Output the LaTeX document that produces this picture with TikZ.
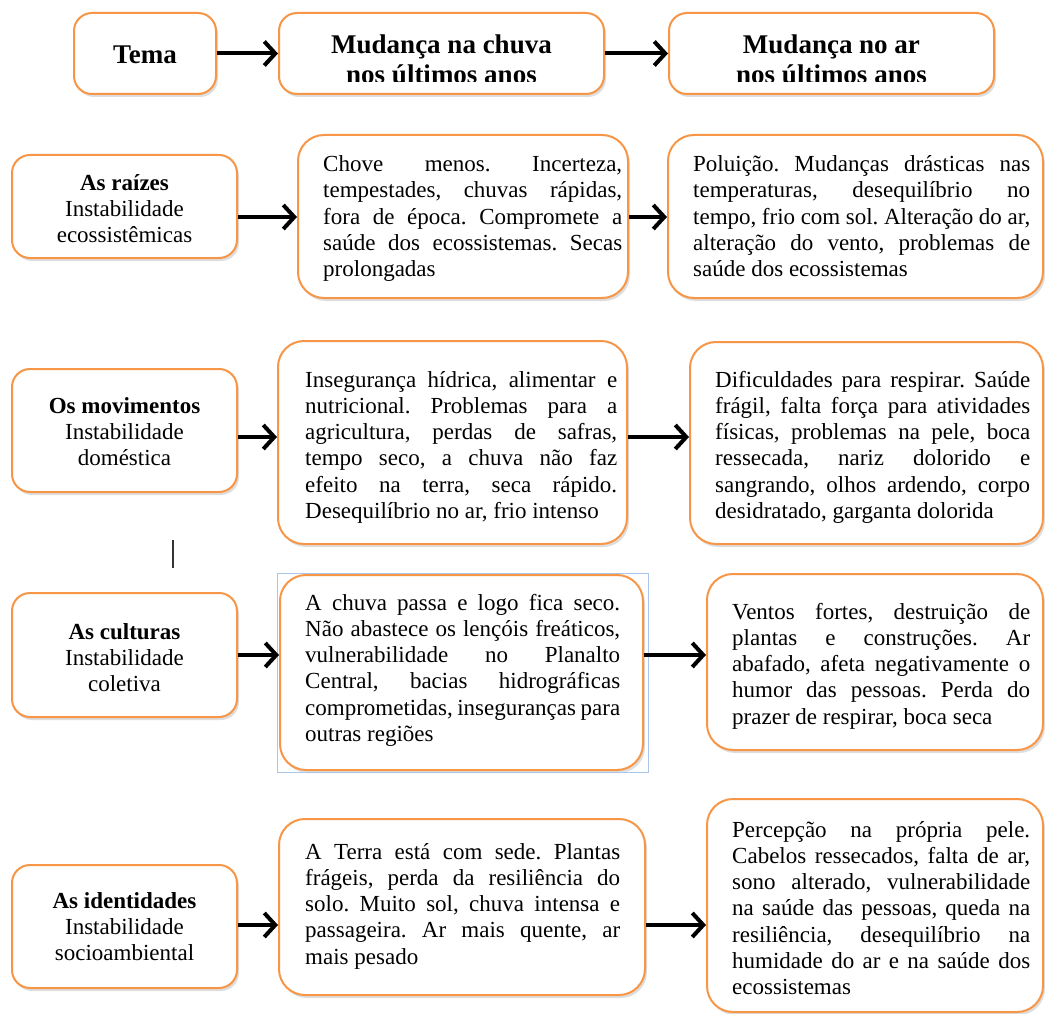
\documentclass[tikz,border=0pt]{standalone}
\usepackage{fontspec}
\setmainfont{Liberation Serif}
\usetikzlibrary{arrows.meta,shadows}
\definecolor{orng}{RGB}{247,150,70}
\definecolor{selblue}{RGB}{170,198,236}
\frenchspacing
\newlength\jw
\newcommand\jl[1]{\makebox[\jw][s]{#1}\par}
\newcommand\para[2]{\parbox[t]{#1}{\frenchspacing\setlength\jw{#1}\setlength\parindent{0pt}\fontsize{23}{26.3}\selectfont #2}}
\newcommand\ctext[1]{\parbox[t]{220pt}{\centering\fontsize{23}{26}\selectfont #1}}
\newcommand\toptext[1]{\parbox[t]{320pt}{\centering\bfseries\fontsize{27}{29.5}\selectfont #1}}
\tikzset{
  box/.style={draw=orng, line width=2pt, fill=white, rounded corners=18pt, inner sep=0pt,
    drop shadow={shadow xshift=2pt, shadow yshift=-3pt, fill=black!25, opacity=.5}},
  bigbox/.style={box, rounded corners=26pt},
  txt/.style={inner sep=0pt, anchor=base west},
  ctxt/.style={inner sep=0pt, anchor=base},
  arr/.style={line width=4pt, -{Straight Barb[length=11pt,width=24pt,line width=4pt]}}
}
\begin{document}
\begin{tikzpicture}[x=1pt,y=-1pt]
\useasboundingbox[fill=white] (0,0) rectangle (1045,1014);

% top row
\node[box, minimum width=142pt, minimum height=81pt] (T0) at (145,53.5) {};
\node[box, minimum width=325pt, minimum height=81pt] (T1) at (441.5,53.5) {};
\node[box, minimum width=325pt, minimum height=81pt] (T2) at (831.5,53.5) {};
\node[inner sep=0pt, font=\bfseries\fontsize{27}{29}\selectfont] (tT0) at (145,55) {Tema};
\begin{scope}
\clip (279,13) rectangle (604,81.5);
\node[ctxt] (tT1) at (441.5,54) {\toptext{Mudança na chuva\\nos últimos anos}};
\end{scope}
\begin{scope}
\clip (669,13) rectangle (994,81.5);
\node[ctxt] (tT2) at (831.5,54) {\toptext{Mudança no ar\\nos últimos anos}};
\end{scope}
\draw[arr] (T0.east) -- (T1.west);
\draw[arr] (T1.east) -- (T2.west);

% row 1
\node[box, minimum width=225pt, minimum height=103pt] (L1) at (124.5,206.5) {};
\node[bigbox, minimum width=330pt, minimum height=163pt] (M1) at (463,216.5) {};
\node[bigbox, minimum width=375pt, minimum height=163pt] (R1) at (855.5,216.5) {};
\node[ctxt] (tL1) at (124.5,191) {\ctext{\textbf{As raízes}\\Instabilidade\\ecossistêmicas}};
\node[txt] (tM1) at (323,171.5) {\para{299pt}{%
\jl{Chove menos. Incerteza,}
\jl{tempestades, chuvas rápidas,}
\jl{fora de época. Compromete a}
\jl{saúde dos ecossistemas. Secas}
prolongadas}};
\node[txt] (tR1) at (693,171.5) {\para{337pt}{%
\jl{Poluição. Mudanças drásticas nas}
\jl{temperaturas, desequilíbrio no}
\jl{tempo, frio com sol. Alteração do ar,}
\jl{alteração do vento, problemas de}
saúde dos ecossistemas}};
\draw[arr] (L1.east |- 0,217) -- (M1.west |- 0,217);
\draw[arr] (M1.east |- 0,217) -- (R1.west |- 0,217);

% row 2
\node[box, minimum width=225pt, minimum height=123pt] (L2) at (124.5,430.5) {};
\node[bigbox, minimum width=349pt, minimum height=203pt] (M2) at (452.5,442.5) {};
\node[bigbox, minimum width=353pt, minimum height=202pt] (R2) at (866.5,443) {};
\node[ctxt] (tL2) at (124.5,413) {\ctext{\textbf{Os movimentos}\\Instabilidade\\doméstica}};
\node[txt] (tM2) at (305,387) {\para{312pt}{%
\jl{Insegurança hídrica, alimentar e}
\jl{nutricional. Problemas para a}
\jl{agricultura, perdas de safras,}
\jl{tempo seco, a chuva não faz}
\jl{efeito na terra, seca rápido.}
Desequilíbrio no ar, frio intenso}};
\node[txt] (tR2) at (715,387) {\para{315pt}{%
\jl{Dificuldades para respirar. Saúde}
\jl{frágil, falta força para atividades}
\jl{físicas, problemas na pele, boca}
\jl{ressecada, nariz dolorido e}
\jl{sangrando, olhos ardendo, corpo}
desidratado, garganta dolorida}};
\draw[arr] (L2.east |- 0,437) -- (M2.west |- 0,437);
\draw[arr] (M2.east |- 0,437) -- (R2.west |- 0,437);

% stray vertical mark
\coordinate (v1) at (173,540);
\coordinate (v2) at (173,568);
\draw[line width=2pt, black!80] (v1) -- (v2);

% row 3
\node[box, minimum width=225pt, minimum height=124pt] (L3) at (124.5,655) {};
\node[bigbox, minimum width=363pt, minimum height=195pt] (M3) at (461.5,672.5) {};
\node[bigbox, minimum width=336pt, minimum height=176pt] (R3) at (875,662) {};
\node[draw=selblue, line width=0.8pt, minimum width=371pt, minimum height=199pt, inner sep=0pt] (sel) at (462.5,672.5) {};
\node[ctxt] (tL3) at (124.5,639) {\ctext{\textbf{As culturas}\\Instabilidade\\coletiva}};
\node[txt] (tM3) at (305,610) {\para{315pt}{%
\jl{A chuva passa e logo fica seco.}
\jl{Não abastece os lençóis freáticos,}
\jl{vulnerabilidade no Planalto}
\jl{Central, bacias hidrográficas}
\jl{comprometidas, inseguranças para}
outras regiões}};
\node[txt] (tR3) at (732,619) {\para{298pt}{%
\jl{Ventos fortes, destruição de}
\jl{plantas e construções. Ar}
\jl{abafado, afeta negativamente o}
\jl{humor das pessoas. Perda do}
prazer de respirar, boca seca}};
\draw[arr] (L3.east |- 0,655) -- (M3.west |- 0,655);
\draw[arr] (M3.east |- 0,655) -- (R3.west |- 0,655);

% row 4
\node[box, minimum width=225pt, minimum height=123pt] (L4) at (124.5,926.5) {};
\node[bigbox, minimum width=366pt, minimum height=176pt] (M4) at (462,907) {};
\node[bigbox, minimum width=336pt, minimum height=213pt] (R4) at (875,905.5) {};
\node[ctxt] (tL4) at (124.5,908) {\ctext{\textbf{As identidades}\\Instabilidade\\socioambiental}};
\node[txt] (tM4) at (305,859) {\para{315pt}{%
\jl{A Terra está com sede. Plantas}
\jl{frágeis, perda da resiliência do}
\jl{solo. Muito sol, chuva intensa e}
\jl{passageira. Ar mais quente, ar}
mais pesado}};
\node[txt] (tR4) at (732,837) {\para{298pt}{%
\jl{Percepção na própria pele.}
\jl{Cabelos ressecados, falta de ar,}
\jl{sono alterado, vulnerabilidade}
\jl{na saúde das pessoas, queda na}
\jl{resiliência, desequilíbrio na}
\jl{humidade do ar e na saúde dos}
ecossistemas}};
\draw[arr] (L4.east |- 0,925) -- (M4.west |- 0,925);
\draw[arr] (M4.east |- 0,925) -- (R4.west |- 0,925);
\end{tikzpicture}
\end{document}
